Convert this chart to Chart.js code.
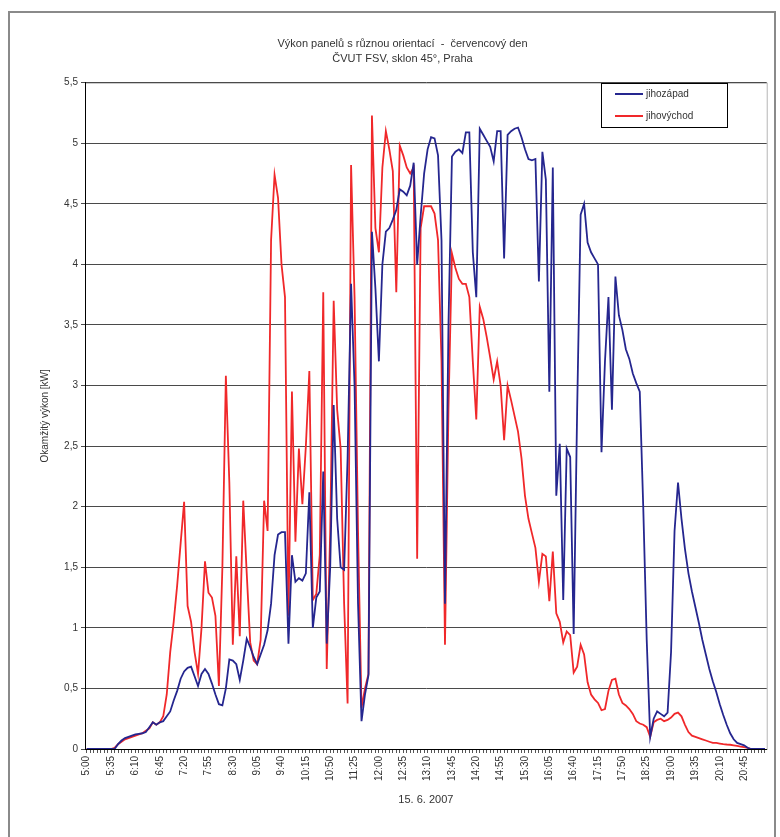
<!DOCTYPE html>
<html>
<head>
<meta charset="utf-8">
<title>Výkon panelů s různou orientací</title>
<script src="https://cdn.jsdelivr.net/npm/chart.js@4.4.1/dist/chart.umd.min.js"></script>
<style>
  html, body { margin: 0; padding: 0; background: #fff; }
  #wrap { position: relative; width: 780px; height: 837px; }
</style>
</head>
<body>
<div id="wrap"><canvas id="powerChart" width="780" height="837"></canvas></div>
<script>
// ----- data (5 min steps, 5:00 - 21:15) -----
const startMinutes = 5 * 60;
const stepMinutes = 5;
const pointCount = 196;
const labelEvery = 7;

const times = [];
for (let i = 0; i < pointCount; i++) {
  const m = startMinutes + i * stepMinutes;
  times.push(Math.floor(m / 60) + ":" + String(m % 60).padStart(2, "0"));
}

const yTicks = [0, 0.5, 1, 1.5, 2, 2.5, 3, 3.5, 4, 4.5, 5, 5.5];

const jihozapad = [
  0, 0, 0, 0, 0, 0, 0, 0, 0, 0.04,
  0.07, 0.09, 0.1, 0.11, 0.12, 0.125, 0.13, 0.14, 0.18, 0.22,
  0.2, 0.22, 0.23, 0.27, 0.31, 0.4, 0.48, 0.58, 0.64, 0.67,
  0.68, 0.6, 0.52, 0.62, 0.66, 0.62, 0.54, 0.45, 0.37, 0.36,
  0.5, 0.74, 0.73, 0.7, 0.57, 0.73, 0.91, 0.84, 0.76, 0.7,
  0.78, 0.86, 0.98, 1.2, 1.6, 1.77, 1.79, 1.79, 0.87, 1.6,
  1.38, 1.41, 1.39, 1.45, 2.12, 1.0, 1.25, 1.3, 2.29, 0.87,
  1.5, 2.84, 1.9, 1.5, 1.48, 2.4, 3.84, 3.0, 1.2, 0.23,
  0.45, 0.61, 4.27, 3.8, 3.2, 4.0, 4.27, 4.3, 4.37, 4.45,
  4.62, 4.6, 4.57, 4.65, 4.84, 4.0, 4.4, 4.75, 4.95, 5.05,
  5.04, 4.9, 4.2, 1.2, 3.5, 4.89, 4.93, 4.95, 4.92, 5.09,
  5.09, 4.1, 3.73, 5.12, 5.07, 5.02, 4.97, 4.85, 5.1, 5.1,
  4.05, 5.07, 5.1, 5.12, 5.13, 5.05, 4.95, 4.87, 4.86, 4.87,
  3.86, 4.93, 4.7, 2.95, 4.8, 2.09, 2.52, 1.23, 2.48, 2.41,
  0.95, 2.8, 4.41, 4.5, 4.18, 4.1, 4.05, 4.0, 2.45, 3.2,
  3.73, 2.8, 3.9, 3.58, 3.46, 3.3, 3.22, 3.1, 3.02, 2.95,
  2.0, 0.9, 0.1, 0.25, 0.31, 0.29, 0.27, 0.3, 0.8, 1.8,
  2.2, 1.9, 1.65, 1.45, 1.3, 1.17, 1.04, 0.9, 0.78, 0.66,
  0.56, 0.47, 0.37, 0.28, 0.2, 0.13, 0.08, 0.05, 0.04, 0.03,
  0.01, 0, 0, 0, 0, 0
];

const jihovychod = [
  0, 0, 0, 0, 0, 0, 0, 0, 0.01, 0.04,
  0.06, 0.08, 0.09, 0.1, 0.11, 0.12, 0.13, 0.15, 0.17, 0.22,
  0.2, 0.22, 0.27, 0.45, 0.8, 1.05, 1.35, 1.7, 2.04, 1.18,
  1.05, 0.8, 0.62, 1.0, 1.55, 1.29, 1.25, 1.1, 0.52, 1.5,
  3.08, 2.2, 0.86, 1.59, 0.93, 2.05, 1.45, 0.88, 0.73, 0.7,
  0.9, 2.05, 1.8, 4.2, 4.74, 4.55, 4.0, 3.73, 1.1, 2.95,
  1.71, 2.48, 2.02, 2.5, 3.12, 1.23, 1.28, 1.6, 3.77, 0.66,
  1.8, 3.7, 2.8, 2.48, 1.2, 0.375, 4.82, 3.73, 1.8, 0.34,
  0.5, 0.62, 5.23, 4.3, 4.1, 4.8, 5.1, 4.95, 4.77, 3.77,
  4.98, 4.9, 4.8, 4.75, 4.8, 1.57, 4.3, 4.48, 4.48, 4.48,
  4.42, 4.2, 3.2, 0.86, 2.8, 4.09, 3.97, 3.88, 3.84, 3.84,
  3.73, 3.2, 2.72, 3.65, 3.55, 3.4, 3.23, 3.05, 3.2, 3.0,
  2.55, 3.0, 2.88, 2.75, 2.62, 2.4, 2.09, 1.9, 1.78, 1.66,
  1.38, 1.61, 1.59, 1.22, 1.63, 1.12, 1.05, 0.88, 0.97, 0.94,
  0.63, 0.68, 0.86, 0.78, 0.55, 0.45, 0.41, 0.38, 0.32, 0.33,
  0.48, 0.57, 0.58, 0.45, 0.38, 0.36, 0.33, 0.29, 0.23, 0.21,
  0.2, 0.18, 0.1, 0.22, 0.24, 0.25, 0.23, 0.24, 0.26, 0.29,
  0.3, 0.27, 0.2, 0.14, 0.11, 0.1, 0.09, 0.08, 0.07, 0.06,
  0.05, 0.05, 0.045, 0.04, 0.037, 0.035, 0.03, 0.025, 0.02, 0.015,
  0.01, 0, 0, 0, 0, 0
];

const BLUE = "#25268f";
const RED = "#f0282a";
const FONT = "'Liberation Sans', Arial, sans-serif";
const TEXT = "#333";

// ----- frame + plot border + legend drawn around the chart -----
const framePlugin = {
  id: "frame",
  beforeDraw(chart) {
    const ctx = chart.ctx;
    const a = chart.chartArea;
    ctx.save();
    ctx.fillStyle = "#fff";
    ctx.fillRect(0, 0, chart.width, chart.height);
    ctx.strokeStyle = "#8a8a8a";
    ctx.lineWidth = 2;
    ctx.strokeRect(9, 12, 766, 840);
    ctx.strokeStyle = "#b5b5b5";
    ctx.lineWidth = 1;
    ctx.strokeRect(a.left + 0.5, a.top + 0.5, a.right - a.left, a.bottom - a.top);
    ctx.restore();
  },
  afterDraw(chart) {
    const ctx = chart.ctx;
    const x = 601, y = 83, w = 126, h = 44;
    ctx.save();
    ctx.fillStyle = "#fff";
    ctx.fillRect(x, y, w, h);
    ctx.strokeStyle = "#000";
    ctx.lineWidth = 1;
    ctx.strokeRect(x + 0.5, y + 0.5, w, h);
    ctx.font = "10px " + FONT;
    ctx.textBaseline = "middle";
    chart.data.datasets.forEach(function (ds, i) {
      const ly = y + 11 + i * 22;
      ctx.strokeStyle = ds.borderColor;
      ctx.lineWidth = 2;
      ctx.beginPath();
      ctx.moveTo(x + 14, ly);
      ctx.lineTo(x + 42, ly);
      ctx.stroke();
      ctx.fillStyle = TEXT;
      ctx.fillText(ds.label, x + 45, ly);
    });
    ctx.restore();
  }
};

new Chart(document.getElementById("powerChart").getContext("2d"), {
  type: "line",
  data: {
    labels: times,
    datasets: [
      {
        label: "jihozápad",
        data: jihozapad,
        borderColor: BLUE,
        borderWidth: 1.8,
        pointRadius: 0,
        tension: 0
      },
      {
        label: "jihovýchod",
        data: jihovychod,
        borderColor: RED,
        borderWidth: 1.8,
        pointRadius: 0,
        tension: 0
      }
    ]
  },
  options: {
    responsive: false,
    animation: false,
    devicePixelRatio: 1,
    layout: { padding: { left: 35, right: 10, top: 0, bottom: 30 } },
    plugins: {
      legend: { display: false },
      tooltip: { enabled: false },
      title: {
        display: true,
        text: ["Výkon panelů s různou orientací  -  červencový den", "ČVUT FSV, sklon 45°, Praha"],
        color: TEXT,
        font: { family: FONT, size: 11, weight: "normal", lineHeight: 1.35 },
        padding: { top: 37, bottom: 16 }
      }
    },
    scales: {
      x: {
        offset: true,
        grid: { display: true, drawOnChartArea: false, tickLength: 4, color: "#555" },
        border: { color: "#000" },
        ticks: {
          autoSkip: false,
          maxRotation: 90,
          minRotation: 90,
          padding: 3,
          color: TEXT,
          font: { family: FONT, size: 10 },
          callback: function (v, i) { return i % labelEvery === 0 ? times[i] : ""; }
        },
        title: {
          display: true,
          text: "15. 6. 2007",
          color: TEXT,
          font: { family: FONT, size: 11 },
          padding: 0
        },
        afterFit: function (s) { s.height = 58; }
      },
      y: {
        min: 0,
        max: 5.5,
        afterBuildTicks: function (s) { s.ticks = yTicks.map(function (v) { return { value: v }; }); },
        grid: { color: "#4a4a4a", lineWidth: 1, tickLength: 4 },
        border: { color: "#000" },
        ticks: {
          color: TEXT,
          padding: 3,
          font: { family: FONT, size: 10 },
          callback: function (v) { return String(v).replace(".", ","); }
        },
        title: {
          display: true,
          text: "Okamžitý výkon [kW]",
          color: TEXT,
          font: { family: FONT, size: 10 },
          padding: 4
        },
        afterFit: function (s) { s.width = 50; }
      }
    }
  },
  plugins: [framePlugin]
});
</script>
</body>
</html>
